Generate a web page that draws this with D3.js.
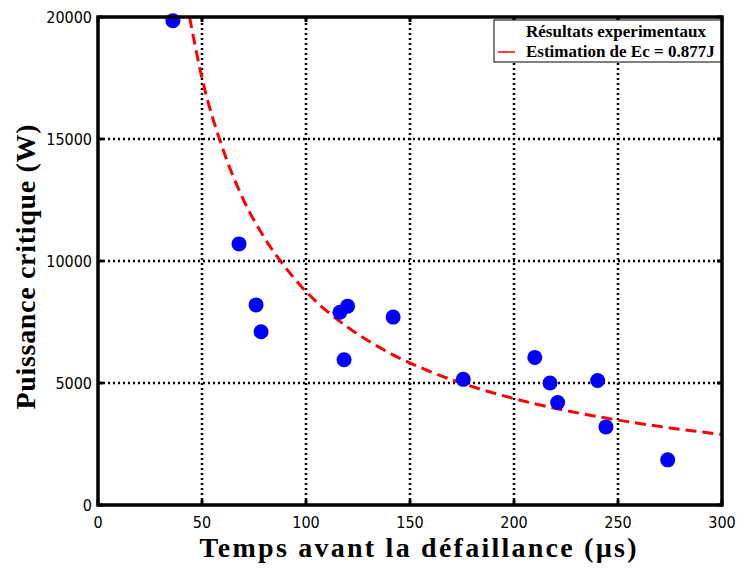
<!DOCTYPE html>
<html>
<head>
<meta charset="utf-8">
<script src="https://cdn.jsdelivr.net/npm/d3@7"></script>
<style>
  body { margin: 0; background: #fff; }
  .tick-label { font-family: "DejaVu Sans Condensed", "DejaVu Sans", sans-serif; font-stretch: condensed; font-size: 16px; fill: #000; }
  .title { font-family: "Liberation Serif", "Times New Roman", serif; font-weight: bold; font-size: 28px; fill: #000; }
  .legend-text { font-family: "Liberation Serif", "Times New Roman", serif; font-weight: bold; font-size: 17px; fill: #000; }
</style>
</head>
<body>
<div id="chart"></div>
<script>
// measured points (time in us, power in W)
const tempsMesure = [36, 67.8, 76, 78.4, 116.3, 120, 118.3, 141.9, 175.6, 210, 217.3, 221, 240.2, 244.2, 273.9];
const puissanceMesure = [19850, 10700, 8200, 7100, 7900, 8150, 5950, 7700, 5150, 6050, 5000, 4200, 5100, 3200, 1850];

// estimation curve
const tempsEstim = [44, 50, 60, 70, 80, 90, 100, 120, 140, 160, 180, 200, 225, 250, 275, 300];
const puissanceEstim = [20000, 17500, 14600, 12500, 10950, 9750, 8750, 7290, 6240, 5460, 4850, 4360, 3870, 3480, 3160, 2890];

const xTicks = [0, 50, 100, 150, 200, 250, 300];
const yTicks = [0, 5000, 10000, 15000, 20000];

const width = 737, height = 568;
const margin = { left: 98, right: 15, top: 17, bottom: 63 };

const svg = d3.select("#chart").append("svg")
  .attr("width", width)
  .attr("height", height);

const x = d3.scaleLinear().domain([0, 300]).range([margin.left, width - margin.right]);
const y = d3.scaleLinear().domain([0, 20000]).range([height - margin.bottom, margin.top]);

svg.append("defs").append("clipPath").attr("id", "clip")
  .append("rect")
  .attr("x", x(0)).attr("y", y(20000))
  .attr("width", x(300) - x(0)).attr("height", y(0) - y(20000));

// dotted grid
const grid = svg.append("g").attr("stroke", "#000").attr("stroke-width", 2.5).attr("stroke-dasharray", "2,3");
grid.selectAll(".gx").data(xTicks.slice(1, -1)).enter().append("line")
  .attr("x1", d => x(d)).attr("x2", d => x(d))
  .attr("y1", y(0)).attr("y2", y(20000));
grid.selectAll(".gy").data(yTicks.slice(1, -1)).enter().append("line")
  .attr("y1", d => y(d)).attr("y2", d => y(d))
  .attr("x1", x(0)).attr("x2", x(300));

// estimation curve
const line = d3.line()
  .x((d, i) => x(tempsEstim[i]))
  .y(d => y(d))
  .curve(d3.curveMonotoneX);

svg.append("path")
  .datum(puissanceEstim)
  .attr("clip-path", "url(#clip)")
  .attr("d", line)
  .attr("fill", "none")
  .attr("stroke", "#ff0000")
  .attr("stroke-width", 3)
  .attr("stroke-dasharray", "11,6");

// measured points
svg.append("g").selectAll("circle")
  .data(puissanceMesure)
  .enter()
  .append("circle")
  .attr("cx", (d, i) => x(tempsMesure[i]))
  .attr("cy", d => y(d))
  .attr("r", 7.5)
  .attr("fill", "#0000ff");

// axes (ticks inward, all four sides)
const tickLen = 5;
const ax = svg.append("g").attr("stroke", "#000").attr("stroke-width", 3);
xTicks.forEach(t => {
  ax.append("line").attr("x1", x(t)).attr("x2", x(t)).attr("y1", y(0)).attr("y2", y(0) - tickLen);
  ax.append("line").attr("x1", x(t)).attr("x2", x(t)).attr("y1", y(20000)).attr("y2", y(20000) + tickLen);
});
yTicks.forEach(t => {
  ax.append("line").attr("y1", y(t)).attr("y2", y(t)).attr("x1", x(0)).attr("x2", x(0) + tickLen);
  ax.append("line").attr("y1", y(t)).attr("y2", y(t)).attr("x1", x(300)).attr("x2", x(300) - tickLen);
});

svg.append("g").selectAll("text")
  .data(xTicks).enter().append("text")
  .attr("class", "tick-label")
  .attr("x", d => x(d))
  .attr("y", y(0) + 23)
  .attr("text-anchor", "middle")
  .text(d => d);

svg.append("g").selectAll("text")
  .data(yTicks).enter().append("text")
  .attr("class", "tick-label")
  .attr("x", x(0) - 6)
  .attr("y", d => y(d) + 6)
  .attr("text-anchor", "end")
  .text(d => d);

// legend box
const lg = svg.append("g");
lg.append("rect")
  .attr("x", 494).attr("y", 20)
  .attr("width", x(300) - 494).attr("height", 42)
  .attr("fill", "#fff").attr("stroke", "#000").attr("stroke-width", 1);
lg.append("line")
  .attr("x1", 498).attr("x2", 515).attr("y1", 52).attr("y2", 52)
  .attr("stroke", "#ff0000").attr("stroke-width", 1.5);
lg.append("text").attr("class", "legend-text").attr("x", 526).attr("y", 37).text("Résultats experimentaux");
lg.append("text").attr("class", "legend-text").attr("x", 526).attr("y", 57).text("Estimation de Ec = 0.877J");

// frame
svg.append("rect")
  .attr("x", x(0)).attr("y", y(20000))
  .attr("width", x(300) - x(0)).attr("height", y(0) - y(20000))
  .attr("fill", "none").attr("stroke", "#000").attr("stroke-width", 3.5);

// titles
svg.append("text")
  .attr("class", "title")
  .attr("x", 418).attr("y", 557)
  .attr("text-anchor", "middle")
  .attr("textLength", 437)
  .attr("lengthAdjust", "spacing")
  .text("Temps avant la défaillance (µs)");

svg.append("text")
  .attr("class", "title")
  .attr("transform", "translate(35, 267) rotate(-90)")
  .attr("text-anchor", "middle")
  .attr("textLength", 285)
  .attr("lengthAdjust", "spacing")
  .text("Puissance critique (W)");
</script>
</body>
</html>
